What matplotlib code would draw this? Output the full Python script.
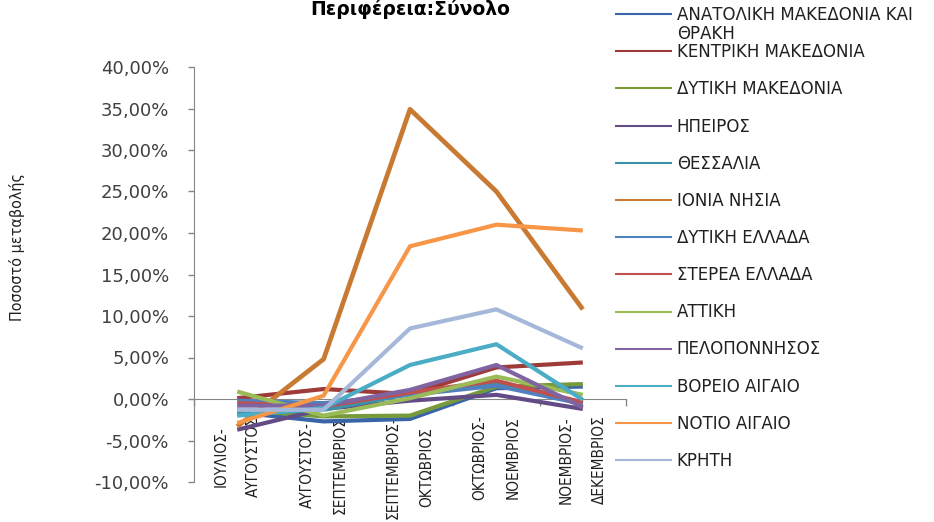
import matplotlib
matplotlib.use("Agg")
import matplotlib.pyplot as plt
import matplotlib.font_manager as fm
from matplotlib.ticker import FuncFormatter

# periods (x categories)
periods = ["ΙΟΥΛΙΟΣ-\nΑΥΓΟΥΣΤΟΣ", "ΑΥΓΟΥΣΤΟΣ-\nΣΕΠΤΕΜΒΡΙΟΣ", "ΣΕΠΤΕΜΒΡΙΟΣ-\nΟΚΤΩΒΡΙΟΣ",
           "ΟΚΤΩΒΡΙΟΣ-\nΝΟΕΜΒΡΙΟΣ", "ΝΟΕΜΒΡΙΟΣ-\nΔΕΚΕΜΒΡΙΟΣ"]

# percentage change per region
regions = ["ΑΝΑΤΟΛΙΚΗ ΜΑΚΕΔΟΝΙΑ ΚΑΙ ΘΡΑΚΗ", "ΚΕΝΤΡΙΚΗ ΜΑΚΕΔΟΝΙΑ", "ΔΥΤΙΚΗ ΜΑΚΕΔΟΝΙΑ", "ΗΠΕΙΡΟΣ",
           "ΘΕΣΣΑΛΙΑ", "ΙΟΝΙΑ ΝΗΣΙΑ", "ΔΥΤΙΚΗ ΕΛΛΑΔΑ", "ΣΤΕΡΕΑ ΕΛΛΑΔΑ", "ΑΤΤΙΚΗ",
           "ΠΕΛΟΠΟΝΝΗΣΟΣ", "ΒΟΡΕΙΟ ΑΙΓΑΙΟ", "ΝΟΤΙΟ ΑΙΓΑΙΟ", "ΚΡΗΤΗ"]
anat_makedonia = [-1.6, -2.7, -2.4, 1.3, 1.5]
kentr_makedonia = [0.1, 1.2, 0.6, 3.8, 4.4]
dyt_makedonia = [-1.3, -2.1, -2.0, 1.5, 1.8]
ipeiros = [-3.7, -1.2, -0.2, 0.5, -1.2]
thessalia = [-1.8, -1.3, 0.6, 1.9, -0.5]
ionia = [-3.3, 4.8, 34.9, 25.0, 10.8]
dyt_ellada = [-0.2, -0.5, 0.5, 1.6, -0.6]
sterea = [-0.5, -0.9, 0.8, 2.2, -0.4]
attiki = [0.9, -2.0, 0.1, 2.7, 0.5]
peloponnisos = [-0.8, -0.8, 1.1, 4.1, -1.0]
voreio_aigaio = [-2.0, -1.1, 4.1, 6.6, -0.1]
notio_aigaio = [-2.9, 0.4, 18.4, 21.0, 20.3]
kriti = [-1.3, -1.3, 8.5, 10.8, 6.1]

series = [anat_makedonia, kentr_makedonia, dyt_makedonia, ipeiros, thessalia, ionia,
          dyt_ellada, sterea, attiki, peloponnisos, voreio_aigaio, notio_aigaio, kriti]
colors = ["#3A64A8", "#9E3B38", "#779A3A", "#634C85", "#3A93AA", "#C87A33",
          "#4F81BD", "#C0504D", "#9BBB59", "#8064A2", "#4BACC6", "#F79646", "#A5B8D9"]

# narrow font for the rotated texts, if one is installed
cond = [f for f in fm.fontManager.ttflist
        if "Narrow" in f.name or "Condensed" in f.name or f.stretch in ("condensed", "semi-condensed")]
if cond:
    narrow = dict(fontfamily=[cond[0].name, "DejaVu Sans"], fontstretch=cond[0].stretch)
    xsize, ysize = 11, 11.5
else:
    narrow = dict(fontfamily=["DejaVu Sans"])
    xsize, ysize = 10, 10

fig = plt.figure(figsize=(9.34, 5.22), dpi=100)
ax = fig.add_axes([194 / 934, 1 - 482 / 522, 432 / 934, 415 / 522])

x = list(range(len(periods)))
for vals, name, c in zip(series, regions, colors):
    lw = 3.4 if name == "ΙΟΝΙΑ ΝΗΣΙΑ" else 3.0
    ax.plot(x, vals, color=c, linewidth=lw, label=name, zorder=3, solid_capstyle="butt")

ax.set_xlim(-0.5, 4.5)
ax.set_ylim(-10, 40)
ax.set_yticks(range(-10, 41, 5))
ax.yaxis.set_major_formatter(FuncFormatter(lambda v, p: f"{v:.2f}%".replace(".", ",")))
ax.tick_params(axis="y", length=4, width=1, color="#868686", pad=14,
               labelsize=13, labelcolor="#404040")

for s in ["top", "right"]:
    ax.spines[s].set_visible(False)
ax.spines["left"].set_color("#868686")
ax.spines["bottom"].set_color("#868686")
ax.spines["bottom"].set_position(("data", 0))
ax.spines["bottom"].set_zorder(2)

ax.set_xticks(x)
ax.set_xticklabels(periods, rotation=90, linespacing=2.5, multialignment="center",
                   color="#202020", fontsize=xsize, **narrow)
ax.set_xticks([i - 0.5 for i in range(len(periods) + 1)], minor=True)
ax.tick_params(axis="x", which="major", length=0, pad=12)
ax.tick_params(axis="x", which="minor", length=5, width=1, color="#868686")

ax.set_ylabel("Ποσοστό μεταβολής", color="#202020", fontsize=ysize, **narrow)
ax.yaxis.set_label_coords(-0.391, 0.566)

fig.text(410 / 934, 1 - 9 / 522, "Περιφέρεια:Σύνολο", ha="center", va="center",
         fontsize=13.5, fontweight="bold")

leg = fig.legend(loc="upper left", bbox_to_anchor=(615 / 934, 1 - 6 / 522), frameon=False,
                 fontsize=12, handlelength=3.4, handletextpad=0.3, labelspacing=1.15,
                 borderpad=0, borderaxespad=0)
for line in leg.get_lines():
    line.set_linewidth(1.5)
for t in leg.get_texts():
    t.set_color("#202020")

# first legend entry wraps onto a second line, like the original legend
first = leg.get_texts()[0]
first.set_text("ΑΝΑΤΟΛΙΚΗ ΜΑΚΕΔΟΝΙΑ ΚΑΙ")
fig.canvas.draw()
bb = first.get_window_extent()
x0, y0 = fig.transFigure.inverted().transform((bb.x0, bb.y0 - 1))
fig.text(x0, y0, "ΘΡΑΚΗ", ha="left", va="top", fontsize=12, color="#202020")

fig.savefig("out.png", dpi=100)
plt.close(fig)
